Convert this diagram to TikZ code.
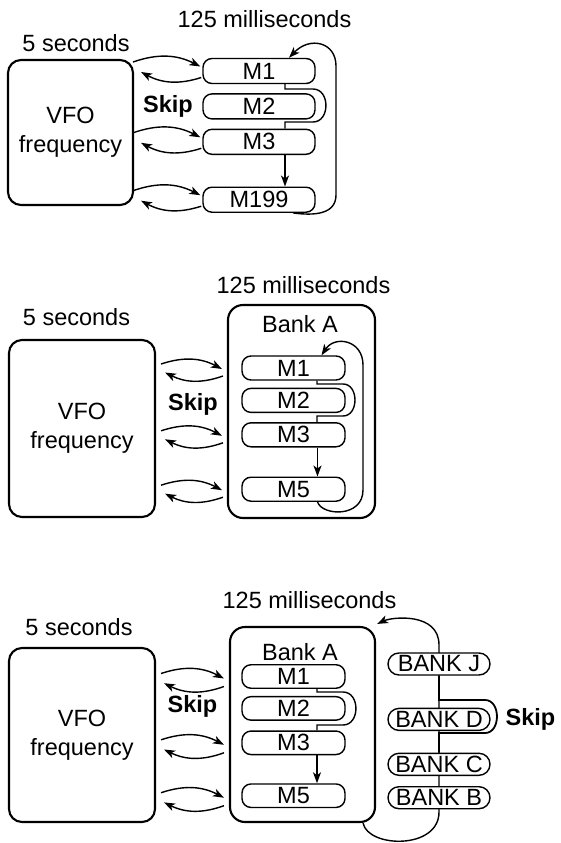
\documentclass[tikz,border=0pt]{standalone}
\usepackage{fontspec}
\setmainfont{Liberation Sans}
\usepackage{tikz}
\usetikzlibrary{positioning,arrows.meta,calc,backgrounds}
\newcommand\diagfont{\fontsize{23.5}{29}\selectfont}
\tikzset{>={Stealth[length=11pt,width=8pt,inset=3pt]}}
\tikzset{vfobox/.style={draw,line width=2.1pt,rounded corners=13pt,align=center,inner sep=0pt}}
\tikzset{bankframe/.style={draw,line width=2.1pt,rounded corners=15pt,inner sep=0pt}}
\tikzset{membox/.style={draw,fill=white,line width=1.4pt,rounded corners=9pt,minimum width=103pt,minimum height=24pt,inner sep=0pt}}
\tikzset{memwide/.style={membox,minimum width=112pt,minimum height=25pt}}
\tikzset{bankbox/.style={membox,rounded corners=11pt,minimum width=102pt,minimum height=22pt}}
\tikzset{timetext/.style={anchor=base,inner sep=0pt}}
\tikzset{skiptext/.style={anchor=base,inner sep=0pt,font=\diagfont\bfseries}}
\tikzset{flow/.style={line width=1.4pt}}
\tikzset{hop/.style={flow,->,bend left=23}}

\begin{document}
\begin{tikzpicture}[x=1pt,y=1pt,font=\diagfont]
                \useasboundingbox (0,0) rectangle (561,-843);
                \node[vfobox,minimum width=125pt,minimum height=145pt] (vfoa) at (70.5,-132.5) {VFO\\frequency};
                \node[timetext] (secsa) at (76,-52) {5 seconds};
                \node[timetext] (msa) at (264.5,-28) {125 milliseconds};
                \node[memwide] (a1) at (259,-71) {M1};
                \node[memwide,below=9pt of a1] (a2) {M2};
                \node[memwide,below=9pt of a2] (a3) {M3};
                \node[memwide,below=31.5pt of a3] (a199) {M199};
                \node[skiptext] (skipa) at (168,-112) {Skip};

                \node[vfobox,minimum width=146pt,minimum height=177pt] (vfob) at (82,-428.5) {VFO\\frequency};
                \node[timetext] (secsb) at (76.5,-325) {5 seconds};
                \node[timetext] (msb) at (303.5,-293) {125 milliseconds};
                \node[bankframe,minimum width=147pt,minimum height=213pt] (bankb) at (301.5,-411.5) {};
                \node[timetext] (banklabelb) at (300,-332) {Bank A};
                \node[membox] (b1) at (293.5,-368) {M1};
                \node[membox,below=7pt of b1] (b2) {M2};
                \node[membox,below=9pt of b2] (b3) {M3};
                \node[membox,below=29pt of b3] (b5) {M5};
                \node[skiptext] (skipb) at (193,-410) {Skip};

                \node[vfobox,minimum width=146pt,minimum height=174pt] (vfoc) at (82,-735) {VFO\\frequency};
                \node[timetext] (secsc) at (79,-635) {5 seconds};
                \node[timetext] (msc) at (309.5,-608) {125 milliseconds};
                \node[bankframe,minimum width=145pt,minimum height=195pt] (bankc) at (302.5,-724.5) {};
                \node[timetext] (banklabelc) at (300,-660) {Bank A};
                \node[membox,minimum height=23.5pt] (c1) at (293.5,-676.5) {M1};
                \node[membox,minimum height=23.5pt,below=7pt of c1] (c2) {M2};
                \node[membox,minimum height=23.5pt,below=9.5pt of c2] (c3) {M3};
                \node[membox,minimum height=23.5pt,below=28pt of c3] (c5) {M5};
                \node[skiptext] (skipc) at (192.5,-712) {Skip};
                \node[bankbox] (bkj) at (439,-664) {BANK J};
                \node[bankbox,below=32pt of bkj] (bkd) {BANK D};
                \node[bankbox,below=21.5pt of bkd] (bkc) {BANK C};
                \node[bankbox,below=10pt of bkc] (bkb) {BANK B};
                \node[skiptext] (skipd) at (530.5,-725) {Skip};

                \begin{scope}[on background layer]
                    \foreach \m in {a1,a3,a199}{
                        \draw[hop] ($(vfoa.east |- \m.west)+(-1,9)$) to ($(\m.west)+(-2,4.5)$);
                        \draw[hop] ($(\m.west)+(-1,-6.5)$) to ($(vfoa.east |- \m.west)+(7,-1)$);
                    }
                    \draw[flow] ([xshift=26pt]a1.south) |- (313,-89) to[out=0,in=0,looseness=1.34] (313,-122) -| ([xshift=26pt]a3.north);
                    \draw[flow,->] ([xshift=26pt]a3.south) -- ([xshift=26pt]a199.north);
                    \draw[flow,->] ([xshift=34pt]a199.south) .. controls (315,-216) and (336,-214) .. (336,-195) -- (336,-66) .. controls (336,-42) and (310,-36) .. ([xshift=30pt]a1.north);

                    \foreach \m in {b1,b3,b5}{
                        \draw[hop] ($(vfob.east |- \m.west)+(5,4)$) to ($(bankb.west |- \m.west)+(-5,-1)$);
                        \draw[hop] ($(bankb.west |- \m.west)+(-4,-8)$) to ($(vfob.east |- \m.west)+(9,-4.5)$);
                    }
                    \draw[flow] ([xshift=23.5pt]b1.south) |- (343,-384) to[out=0,in=0,looseness=1.28] (343,-416) -| ([xshift=23.5pt]b3.north);
                    \draw[flow,->] ([xshift=24pt]b3.south) -- ([xshift=24pt]b5.north);
                    \draw[flow,->] ([xshift=24pt]b5.south) .. controls (322,-516) and (363,-518) .. (363,-490) -- (363,-365) .. controls (363,-340) and (335,-335) .. ([xshift=28pt]b1.north);

                    \foreach \m in {c1,c3,c5}{
                        \draw[hop] ($(vfoc.east |- \m.west)+(5,3)$) to ($(bankc.west |- \m.west)+(-5,-2)$);
                        \draw[hop] ($(bankc.west |- \m.west)+(-5,-10)$) to ($(vfoc.east |- \m.west)+(8,-6.7)$);
                    }
                    \draw[flow] ([xshift=23.5pt]c1.south) |- (343,-692) to[out=0,in=0,looseness=1.34] (343,-725) -| ([xshift=23.5pt]c3.north);
                    \draw[flow,->] ([xshift=23.5pt]c3.south) -- ([xshift=23.5pt]c5.north);
                    \draw[flow,->] ([xshift=-13pt]bankc.south east) .. controls (368,-848) and (439,-850) .. (439,-812) -- (439,-645) .. controls (439,-612) and (392,-617) .. ([shift={(1,2)}]bankc.north east);
                    \draw[line width=1.8pt] (bkj.south) |- (485,-700) to[out=0,in=0,looseness=1.24] (485,-733) -| (bkc.north);
                \end{scope}
            \end{tikzpicture}
\end{document}
